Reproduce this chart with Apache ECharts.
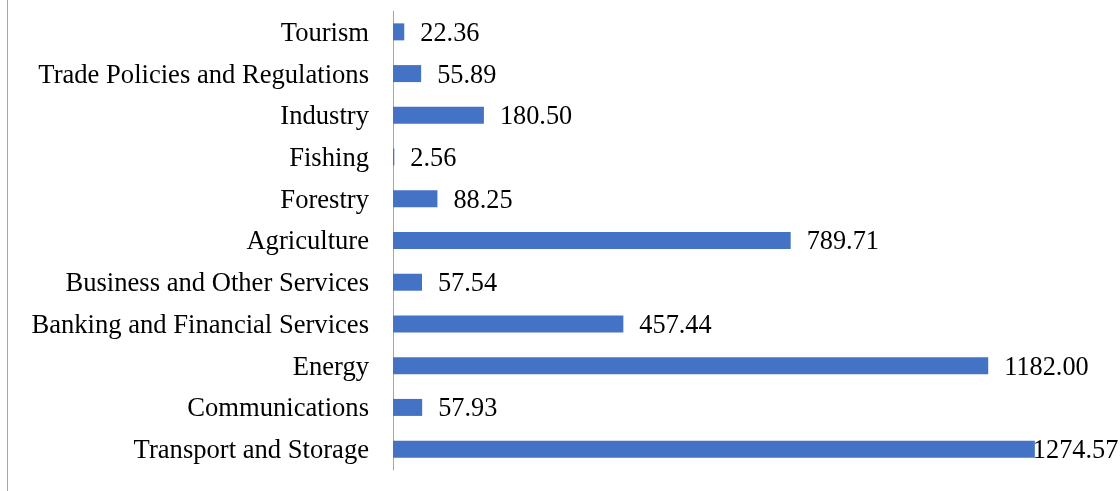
<!DOCTYPE html>
<html><head><meta charset="utf-8">
<script src="https://cdn.jsdelivr.net/npm/echarts@6/dist/echarts.min.js"></script>
<style>html,body{margin:0;padding:0;background:#fff}#c{width:1120px;height:491px}</style>
</head><body><div id="c"></div>
<script>
const categories = ["Transport and Storage","Communications","Energy","Banking and Financial Services","Business and Other Services","Agriculture","Forestry","Fishing","Industry","Trade Policies and Regulations","Tourism"];
const values = [1274.57,57.93,1182.00,457.44,57.54,789.71,88.25,2.56,180.50,55.89,22.36];
const FONT = "'Liberation Serif','Times New Roman',serif";
const chart = echarts.init(document.getElementById('c'));
chart.setOption({
  animation:false,
  backgroundColor:'#fff',
  grid:{left:393,right:22,top:11,bottom:21,containLabel:false},
  xAxis:{type:'value',min:0,max:1400,show:false},
  yAxis:{type:'category',data:categories,
    axisLine:{show:true,lineStyle:{color:'#a6a6a6',width:1}},
    axisTick:{show:false},
    axisLabel:{color:'#000',fontFamily:FONT,fontSize:26.6,margin:24,
      formatter:v=>'{a|'+v+'}',
      rich:{a:{color:'#000',fontFamily:FONT,fontSize:26.6,padding:[4,0,0,0]}}}},
  graphic:[{type:'line',shape:{x1:7.5,y1:0,x2:7.5,y2:491},style:{stroke:'#a6a6a6',lineWidth:1}}],
  series:[{type:'bar',barWidth:17,
    itemStyle:{color:'#4472C4'},
    data:values.map((v,i)=> i===0 ? {value:v,label:{distance:-2}} : v),
    label:{show:true,position:'right',distance:16,offset:[0,2],color:'#000',fontFamily:FONT,fontSize:26.3,
      formatter:p=>p.value.toFixed(2)}}]
});
</script></body></html>
